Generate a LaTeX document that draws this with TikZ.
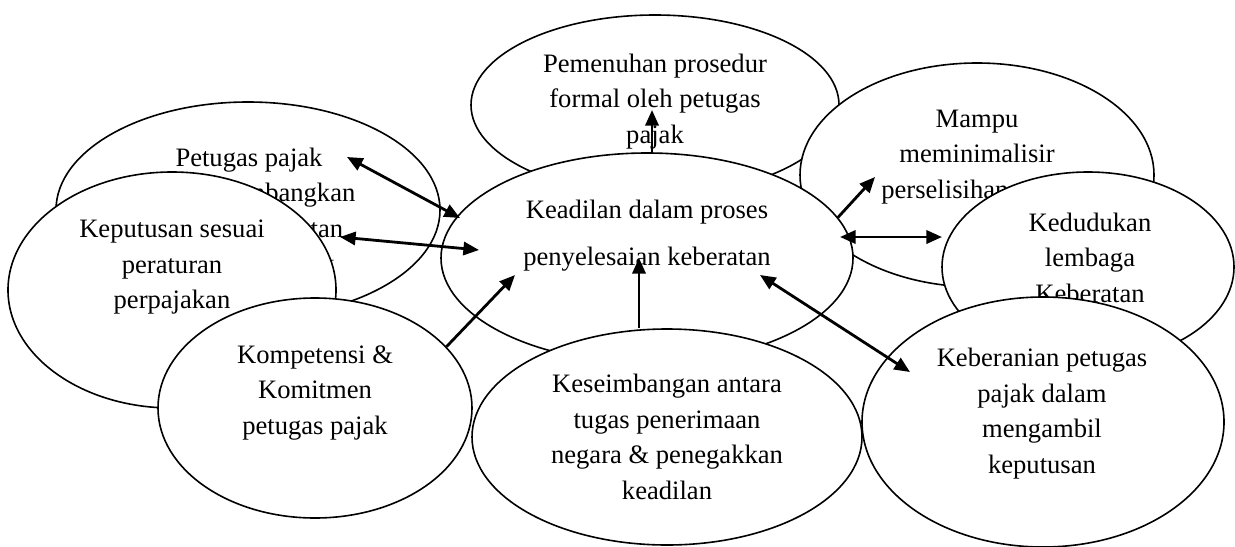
\documentclass[tikz,border=0pt]{standalone}
\usepackage{fontspec}
\setmainfont{Liberation Serif}
\usetikzlibrary{arrows.meta,shapes.geometric}
\tikzset{
  ell/.style={draw=black, fill=white, ellipse, line width=0.8pt, inner sep=0pt},
  txt/.style={align=center, anchor=base, inner sep=0pt, font=\fontsize{13.3pt}{17.75pt}\selectfont},
  arr/.style={line width=1.4pt, -{Triangle[length=7.8pt,width=6.6pt]}},
  darr/.style={line width=1.4pt, {Triangle[length=7.8pt,width=6.6pt]}-{Triangle[length=7.8pt,width=6.6pt]}}
}
\begin{document}
\begin{tikzpicture}[x=0.5pt,y=-0.5pt]
\useasboundingbox (0,0) rectangle (1235,546);
\fill[white] (0,0) rectangle (1235,546);
% Petugas
\node[ell, minimum width=192pt, minimum height=108pt] (petugas) at (248,210) {};
\node[txt] (tpetugas) at (249,272.5) {Petugas pajak\\mempertimbangkan\\seluruh keberatan\\dari wajib pajak};
% Pemenuhan
\node[ell, minimum width=184pt, minimum height=90pt] (pemenuhan) at (655,105) {};
\node[txt] (tpemenuhan) at (655,143) {Pemenuhan prosedur\\formal oleh petugas\\pajak};
% Mampu
\node[ell, minimum width=177pt, minimum height=112pt] (mampu) at (977,175) {};
\node[txt] (tmampu) at (977,198) {Mampu\\meminimalisir\\perselisihan pajak};
% Keadilan
\node[ell, minimum width=206pt, minimum height=105pt] (keadilan) at (647,258) {};
\node[txt, font=\fontsize{13.3pt}{23.5pt}\selectfont] (tkeadilan) at (647,265) {Keadilan dalam proses\\penyelesaian keberatan};
% Keputusan
\node[ell, minimum width=164pt, minimum height=118pt] (keputusan) at (172,290) {};
\node[txt] (tkeputusan) at (172,308.5) {Keputusan sesuai\\peraturan\\perpajakan};
% Kedudukan
\node[ell, minimum width=146pt, minimum height=95pt] (kedudukan) at (1088,267) {};
\node[txt] (tkedudukan) at (1090,302) {Kedudukan\\lembaga\\Keberatan};
% Kompetensi
\node[ell, minimum width=157pt, minimum height=110pt] (kompetensi) at (315,408) {};
\node[txt] (tkompetensi) at (315,434) {Kompetensi \&\\Komitmen\\petugas pajak};
% Keseimbangan
\node[ell, minimum width=195pt, minimum height=108pt] (keseimbangan) at (667,437) {};
\node[txt] (tkeseimbangan) at (667,499) {Keseimbangan antara\\tugas penerimaan\\negara \& penegakkan\\keadilan};
% Keberanian
\node[ell, minimum width=181pt, minimum height=125pt] (keberanian) at (1043,422) {};
\node[txt] (tkeberanian) at (1042,473) {Keberanian petugas\\pajak dalam\\mengambil\\keputusan};
% arrow end points
\coordinate (a1) at (347,157);
\coordinate (b1) at (460,218);
\coordinate (a2) at (340,237);
\coordinate (b2) at (479,250);
\coordinate (b3) at (515,275);
\coordinate (b4) at (639,258);
\coordinate (b5) at (652,110);
\coordinate (b6) at (875,177);
\coordinate (a7) at (840,237);
\coordinate (b7) at (942,237);
\coordinate (a8) at (760,275);
\coordinate (b8) at (910,372);
% arrows
\draw[darr] (a1) -- (b1);
\draw[darr] (a2) -- (b2);
\draw[arr] (kompetensi.25.1) -- (b3);
\draw[arr] (keseimbangan.north -| b4) -- (b4);
\draw[arr] (keadilan.north -| b5) -- (b5);
\draw[arr] (keadilan.12.9) -- (b6);
\draw[darr] (a7) -- (b7);
\draw[darr] (a8) -- (b8);
\end{tikzpicture}
\end{document}
